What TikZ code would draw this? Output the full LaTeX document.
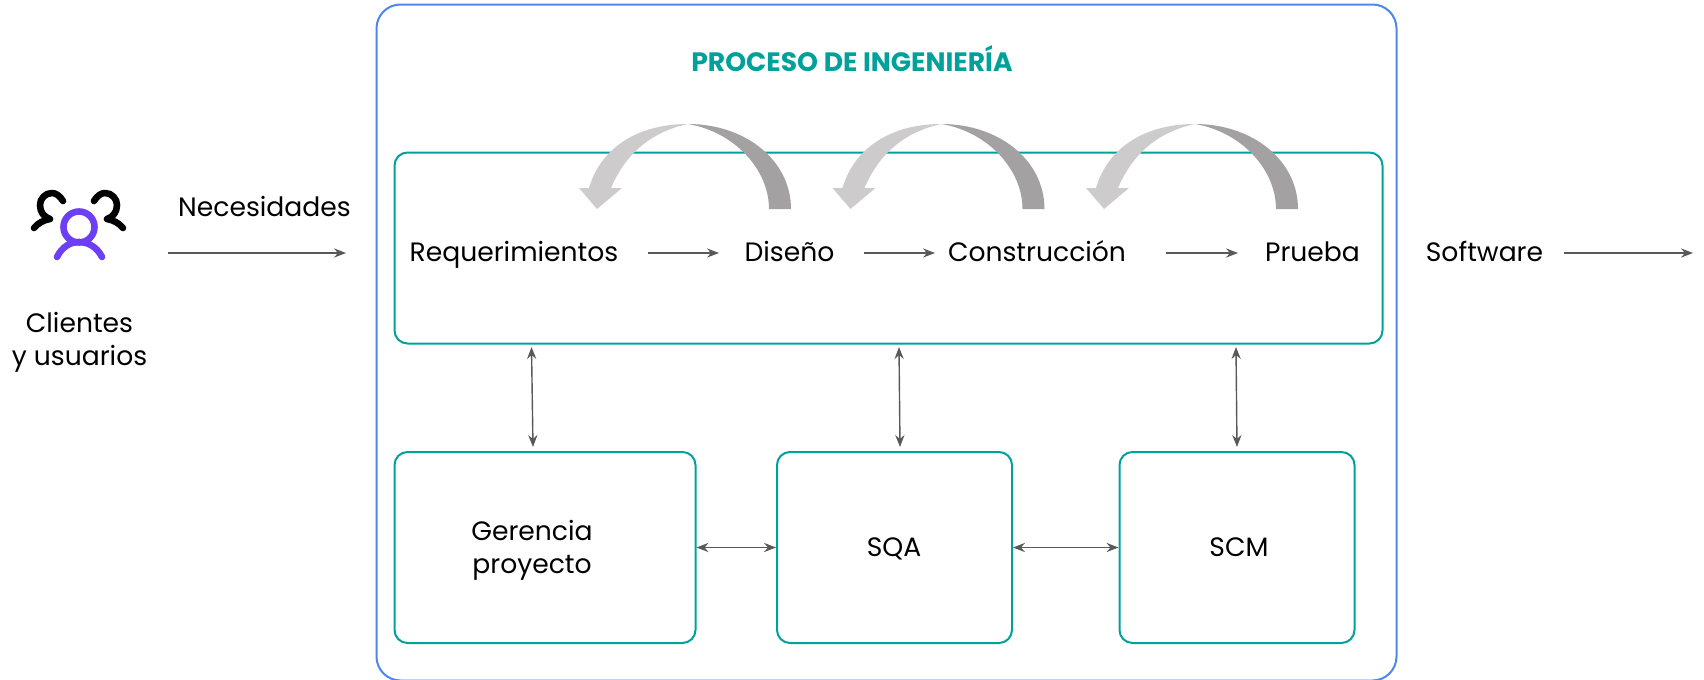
\documentclass[tikz,border=0pt]{standalone}
\usepackage{fontspec}
\setmainfont{Poppins}
\usetikzlibrary{arrows.meta}
\definecolor{tealc}{HTML}{00A19B}
\definecolor{bluec}{HTML}{4F86EC}
\definecolor{greyc}{HTML}{595959}
\definecolor{arcdark}{HTML}{A3A1A2}
\definecolor{arclight}{HTML}{CDCBCC}
\definecolor{purplec}{HTML}{6C3FF5}
\newcommand{\curvedarrow}[1]{%
\begin{scope}[xshift=#1*0.5pt]
\fill[arcdark] (688,124) .. controls (745,124) and (791,160) .. (791,209) -- (769,209) .. controls (769,170) and (735,132) .. (688,124) -- cycle;
\fill[arclight] (688,124) .. controls (635,124) and (600,150) .. (589,188) -- (579,188) -- (597,209) -- (622,188) -- (611,188) .. controls (625,155) and (650,132) .. (688,124) -- cycle;
\end{scope}}
\tikzset{
  x=0.5pt,y=-0.5pt,
  box/.style={draw=tealc,line width=1pt,rounded corners=6.5pt},
  lbl/.style={font=\fontsize{13.3}{16.4}\selectfont,align=center,inner sep=0pt,text=black},
  one/.style={lbl,text height=10pt,text depth=3.4pt},
  conn/.style={draw=greyc,line width=0.7pt,-{Stealth[length=6pt,width=4.6pt,inset=2pt]}},
  dconn/.style={draw=greyc,line width=0.7pt,{Stealth[length=6pt,width=4.6pt,inset=2pt]}-{Stealth[length=6pt,width=4.6pt,inset=2pt]}},
  icon/.style={line width=3.3pt,line cap=round,line join=round}
}
\begin{document}
\begin{tikzpicture}
\useasboundingbox (0,0) rectangle (1704,680);
\begin{scope}
\clip (0,0) rectangle (1704,680);
\draw[bluec,line width=1pt,rounded corners=12pt] (376.5,4.5) rectangle (1396.5,680.5);
\end{scope}
\node[one,font=\fontsize{13.3}{16}\selectfont\bfseries,text=tealc] (title) at (852,65) {PROCESO DE INGENIERÍA};
\node[box,minimum width=494pt,minimum height=95.5pt,anchor=north west,inner sep=0pt] (proc) at (393.5,151.5) {};
\node[box,minimum width=150.5pt,minimum height=95.5pt,anchor=north west,inner sep=0pt] (ger) at (393.5,451) {};
\node[box,minimum width=117.5pt,minimum height=95.5pt,anchor=north west,inner sep=0pt] (sqa) at (776,451) {};
\node[box,minimum width=117.5pt,minimum height=95.5pt,anchor=north west,inner sep=0pt] (scm) at (1118.5,451) {};
\curvedarrow{0}
\curvedarrow{253.5}
\curvedarrow{507}
\node[one] (req) at (514,255.3) {Requerimientos};
\node[one] (dis) at (789.5,255.3) {Diseño};
\node[one] (con) at (1037,255.3) {Construcción};
\node[one] (pru) at (1312.5,255.3) {Prueba};
\node[one] (sw) at (1484.5,255.3) {Software};
\node[one] (nec) at (264.5,210.3) {Necesidades};
\node[lbl] (cli) at (79.5,342.5) {Clientes\\y usuarios};
\node[lbl] (gert) at (532,550.5) {Gerencia\\proyecto};
\node[one] (sqat) at (894,549.5) {SQA};
\node[one] (scmt) at (1239,549.5) {SCM};
\coordinate (a0) at (168,253); \coordinate (a1) at (346,253);
\coordinate (b0) at (648,253); \coordinate (b1) at (719,253);
\coordinate (c0) at (864,253); \coordinate (c1) at (935,253);
\coordinate (d0) at (1166,253); \coordinate (d1) at (1238,253);
\coordinate (e0) at (1564,253); \coordinate (e1) at (1693,253);
\draw[conn] (a0) -- (a1);
\draw[conn] (b0) -- (b1);
\draw[conn] (c0) -- (c1);
\draw[conn] (d0) -- (d1);
\draw[conn] (e0) -- (e1);
\coordinate (u1) at (531.5,347); \coordinate (l1) at (533,447);
\coordinate (u2) at (899,347); \coordinate (l2) at (900,447);
\coordinate (u3) at (1236,347); \coordinate (l3) at (1237,447);
\draw[dconn] (u1) -- (l1);
\draw[dconn] (u2) -- (l2);
\draw[dconn] (u3) -- (l3);
\draw[dconn] (ger.east) -- (sqa.west);
\draw[dconn] (sqa.east) -- (scm.west);
\draw[icon,black] (63,201) .. controls (60,196) and (56,193) .. (52,193) .. controls (45,193) and (40,199) .. (40,205) .. controls (40,212) and (44,217) .. (50,219) .. controls (44,220) and (38,223) .. (34,228);
\draw[icon,black] (94,201) .. controls (97,196) and (101,193) .. (105,193) .. controls (112,193) and (117,199) .. (117,205) .. controls (117,212) and (113,217) .. (107,219) .. controls (113,220) and (119,223) .. (123,228);
\draw[icon,purplec] (79,227) circle[radius=15.5];
\draw[icon,purplec] (57,257) .. controls (62,247) and (70,242) .. (79,242) .. controls (88,242) and (97,247) .. (102,257);
\end{tikzpicture}
\end{document}
